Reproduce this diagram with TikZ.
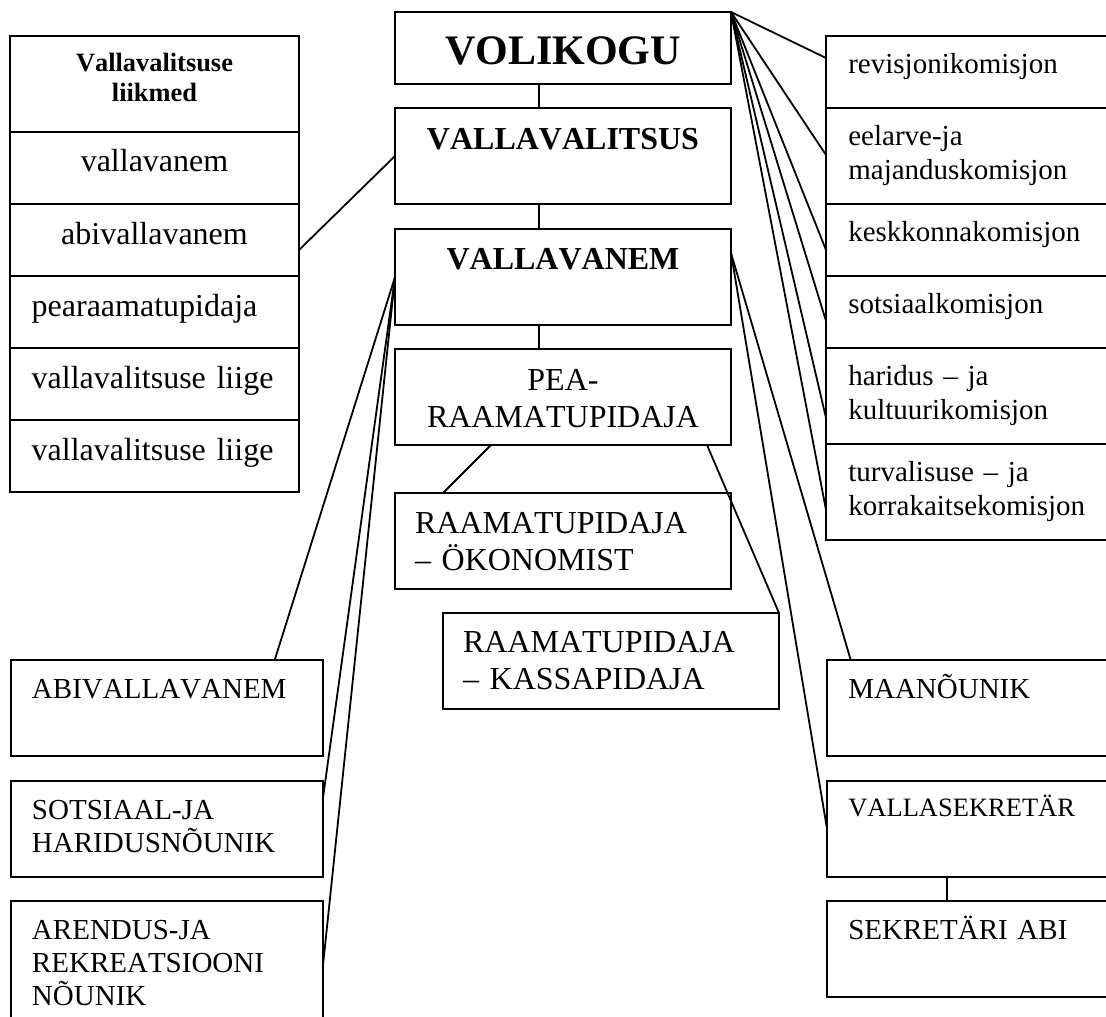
\documentclass[tikz,border=0pt]{standalone}
\usepackage{fontspec}
\setmainfont{Liberation Serif}[Kerning=Off]
\usetikzlibrary{%
  positioning% wg. " of "
}

\begin{document}
\begin{tikzpicture}[x=0.5pt, y=-0.5pt, line width=0.9pt,
  every node/.style={draw, line width=1pt, outer sep=0pt, inner ysep=0pt, anchor=north west},
  Council/.style={text width=168pt, inner xsep=0pt, align=center,
    font=\bfseries\fontsize{21}{24}\selectfont},
  Board/.style={text width=168pt, inner xsep=0pt, align=center,
    text height=21pt, text depth=27pt, font=\bfseries\fontsize{16}{18.5}\selectfont},
  Office/.style={text width=148pt, inner xsep=10pt, align=left,
    text height=20pt, text depth=28pt, font=\fontsize{16}{18.5}\selectfont},
  Members/.style={text width=122.8pt, inner xsep=10.85pt, align=center,
    text height=20pt, text depth=16pt, font=\fontsize{16}{18.5}\selectfont},
  Committee/.style={text width=129.7pt, inner xsep=11.15pt, align=left,
    text height=18.75pt, font=\fontsize{14.5}{17}\selectfont},
  Short/.style={text depth=17.25pt},
  Tall/.style={text depth=29.25pt},
  Adviser/.style={text width=134.7pt, inner xsep=10.65pt, align=left,
    text height=19pt, text depth=29pt, font=\fontsize{14.5}{16.5}\selectfont},
  Staff/.style={text width=130.4pt, inner xsep=10.8pt, align=left,
    text height=19pt, text depth=29pt, font=\fontsize{14.5}{16.5}\selectfont}]

  \useasboundingbox (0,0) rectangle (1106,1016);
  \clip (0,0) rectangle (1106,1016);

  % centre column
  \node [Council, text height=26.5pt, text depth=9.5pt] (vol) at (395,12) {VOLIKOGU};
  \node [Board, below=12pt of vol] (valit) {VALLAVALITSUS};
  \node [Board, below=12.5pt of valit, text height=20pt, text depth=28pt] (vanem) {VALLAVANEM};
  \node [Office, align=center, below=12pt of vanem, text height=20.5pt, text depth=27.5pt] (pea)
    {PEA-\\RAAMATUPIDAJA\hspace*{11pt}};
  \node [Office, below=24pt of pea] (okon) {RAAMATUPIDAJA\\– ÖKONOMIST};
  \node [Office, below=12pt of okon, xshift=24pt, text height=19.5pt, text depth=28.5pt] (kassa)
    {RAAMATUPIDAJA\\– KASSAPIDAJA};

  % vallavalitsuse liikmed
  \node [Members, text height=17.85pt, text depth=30.15pt,
    font=\bfseries\fontsize{13.2}{15}\selectfont] (liikmed) at (10,36) {Vallavalitsuse\\liikmed};
  \node [Members, below=0pt of liikmed] (lvanem) {vallavanem};
  \node [Members, below=0pt of lvanem] (labiv) {abivallavanem};
  \node [Members, align=left, below=0pt of labiv] (lpea) {pearaamatupidaja};
  \node [Members, align=left, below=0pt of lpea] (lliige) {vallavalitsuse liige};
  \node [Members, align=left, below=0pt of lliige] (lliige2) {vallavalitsuse liige};

  % komisjonid
  \node [Committee, Short] (revis) at (826,36) {revisjonikomisjon};
  \node [Committee, Tall, below=0pt of revis] (eelarve) {eelarve-ja\\majanduskomisjon};
  \node [Committee, Short, below=0pt of eelarve] (keskk) {keskkonnakomisjon};
  \node [Committee, Short, below=0pt of keskk] (sotsk) {sotsiaalkomisjon};
  \node [Committee, Tall, below=0pt of sotsk] (harid) {haridus – ja\\kultuurikomisjon};
  \node [Committee, Tall, below=0pt of harid] (turva) {turvalisuse – ja\\korrakaitsekomisjon};

  % nõunikud
  \node [Adviser] (abiv) at (10.7,660) {ABIVALLAVANEM};
  \node [Adviser, below=12.5pt of abiv] (sotsn) {SOTSIAAL-JA\\HARIDUSNÕUNIK};
  \node [Adviser, below=12pt of sotsn, text depth=51pt] (arend) {ARENDUS-JA\\REKREATSIOONI\\NÕUNIK};

  \node [Staff] (maa) at (826.7,660) {MAANÕUNIK};
  \node [Staff, below=12.5pt of maa, text height=17.5pt, text depth=30.5pt,
    font=\fontsize{13.25}{15}\selectfont] (sekr) {VALLASEKRETÄR};
  \node [Staff, below=12pt of sekr] (sabi) {SEKRETÄRI ABI};

  % connectors
  \coordinate (spine) at (539,0);
  \foreach \top/\sub in {vol/valit, valit/vanem, vanem/pea}
    \draw (\top.south -| spine) -- (\sub.north -| spine);
  \foreach \row/\off in {revis/11pt, eelarve/23.5pt, keskk/23pt, sotsk/22.5pt, harid/35pt, turva/33pt}
    \draw (vol.north east) -- ([yshift=-\off]\row.north west);
  \draw (valit.west) -- ([yshift=-23pt]labiv.north east);
  \draw (vanem.west) -- ([xshift=-24pt]abiv.north east);
  \draw (vanem.west) -- ([yshift=-9.5pt]sotsn.north east);
  \draw (vanem.west) -- ([yshift=-33.5pt]arend.north east);
  \draw ([yshift=-12pt]vanem.north east) -- ([xshift=12pt]maa.north west);
  \draw ([yshift=-12pt]vanem.north east) -- ([yshift=-23pt]sekr.north west);
  \draw ([xshift=48pt]pea.south west) -- ([xshift=24pt]okon.north west);
  \draw ([xshift=-12pt]pea.south east) -- (kassa.north east);
  \draw ([xshift=60pt]sekr.south west) -- ([xshift=60pt]sabi.north west);
\end{tikzpicture}
\end{document}
